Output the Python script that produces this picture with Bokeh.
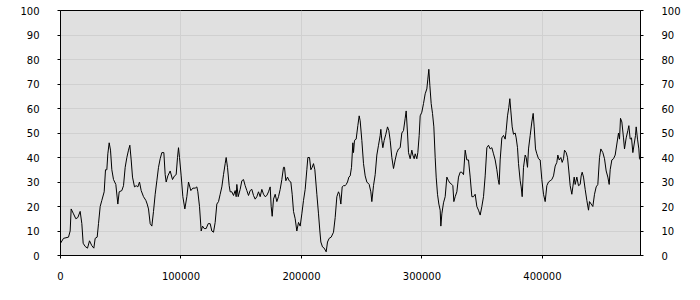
from bokeh.plotting import figure
from bokeh.models import Range1d, LinearAxis, FixedTicker, BasicTickFormatter
from bokeh.embed import file_html
from bokeh.resources import INLINE

x_seg1 = [0, 2500, 6640, 8020, 8850, 10790, 12730, 14390, 16320, 17710, 18810, 20470, 22410, 24070,
          26010, 27670, 28780, 30440, 31540, 32930, 34310, 36250, 37350, 38460, 39290, 40400, 41500,
          42610, 44000, 45930, 47590, 48700, 50910, 52300, 53680, 55070, 56450, 57560, 58660, 59770,
          61430, 62810, 64200, 65580, 66960, 68900, 70840, 71940, 73050, 74430, 75820, 77200, 78580,
          79970, 81350, 82740, 84120, 85780, 86890, 87720, 89100, 91040, 92970, 94630, 96020, 97120,
          97950, 98780, 100170, 101550, 103210, 104870, 106250, 108190, 109850, 111790, 113170,
          114000, 115380, 116770, 117880, 119260, 120920, 122580]
y_seg1 = [5, 7, 7.5, 10, 19, 17, 15, 15.5, 18, 13, 5, 3.7, 3, 6, 4, 3, 7, 7.5, 13, 20, 22.5, 26, 35,
          35, 41.5, 46, 43, 35, 31, 29, 21, 26, 26.5, 28.5, 36, 40, 43, 45, 39, 32, 28, 28.5, 28, 30,
          26.5, 24, 22.5, 21, 19, 13, 12, 18, 25, 30.5, 36, 39.5, 42, 42, 33, 30, 32.5, 34.5, 31, 32.5,
          33, 40, 44, 40, 32.5, 24, 19, 24, 30, 26.5, 27.5, 27.5, 28, 26, 20, 10, 12, 11, 11, 13]

x_seg2 = [124220, 125610, 126990, 128370, 129760, 131140, 132530, 133910, 135290, 136680, 137500,
          138610, 140000, 140830, 142210, 143590, 144980, 145810, 146360, 147470, 149130, 150510,
          151890, 153280, 154660, 156040, 157430, 158810, 160200, 161580, 162960, 164350, 165730,
          167110, 168500, 169880, 171260, 172650, 174030, 174860, 175690, 176800, 178180, 179560,
          180950, 182330, 183710, 185100, 185930, 187030, 188420, 189800, 191180, 192290, 193400,
          194780, 196160, 197550, 198930, 200310, 201700, 203080, 204460, 205300, 206680, 207790,
          208890, 210000, 211110, 212770, 214150, 215260, 216090, 217470, 218860, 220520, 221620,
          223010, 224670, 226600, 227990, 229370, 230750, 231580, 232690, 233800, 234900, 236290,
          237120, 238220, 239330, 240440, 241540, 242650]
y_seg2 = [13, 10, 9.5, 13.5, 21, 22, 25, 28, 33, 37.5, 40, 36, 28.5, 26, 26, 24.5, 26.5, 24, 29, 24,
          27, 30.5, 31, 28.5, 26.5, 24.5, 26.5, 27, 24.5, 23, 24, 26, 24, 27, 25, 24, 24.5, 26, 28,
          20, 16, 23, 25, 22, 24, 27, 31, 36, 36, 30.5, 32, 30.5, 30, 25, 18, 15, 10, 13.5, 12, 17,
          22.5, 27, 35, 40, 40, 35, 36, 37.5, 35, 25, 17, 10, 5.5, 3.5, 3, 1.5, 5.5, 7, 7.5, 9.5,
          15.5, 24, 26, 25, 21, 28, 28.5, 28.5, 29, 30, 32, 32.5, 36, 46]

x_seg3 = [243190, 244020, 245400, 246790, 247900, 248720, 250110, 251490, 252880, 254260, 256200,
          257580, 258410, 259790, 261180, 262560, 263940, 265330, 265880, 266710, 267540, 268650,
          270030, 271410, 272520, 273630, 275010, 276390, 277780, 279160, 280540, 281930, 283310,
          284700, 286080, 286910, 288020, 288850, 290230, 291610, 292440, 293550, 294380, 295760,
          296590, 297700, 298530, 299910, 301300, 302680, 304060, 304890, 305720, 306550, 307660,
          308770, 309880, 310980, 311810, 312920, 314030, 315130, 315690, 316520, 317900, 319280,
          320670, 322050, 323430, 324820, 325650, 326480, 327580, 328970, 330350, 331740, 333120,
          334500, 335890, 337270, 338650, 340040, 341420, 342800, 344190, 345570, 346950, 348340,
          349720, 351100, 352490, 353870, 355250, 356640, 358020, 359400, 360790, 362170, 363280]
y_seg3 = [42, 47, 47.5, 53, 57, 55, 47, 37.5, 32.5, 30, 29, 26, 22, 28.5, 33, 41, 45, 49, 51.5, 47,
          44, 47, 49.5, 52.5, 51, 47, 40, 35.5, 39, 42, 43.5, 44, 50, 51, 56, 59, 50, 42, 39.5, 43,
          41, 39.5, 41.5, 39.5, 42, 49, 57, 58.5, 62, 66, 68, 72, 76, 69.5, 62, 58, 52.5, 40, 32, 25,
          21, 18.5, 12, 17, 21.5, 24, 32, 30.5, 29.5, 29, 28.5, 22, 24, 26, 32, 34, 34, 33, 43, 39,
          39, 32, 24, 24, 25, 20, 18.5, 16.5, 20, 24, 32.5, 44, 45, 43.5, 44, 41.5, 39, 35, 31]

x_seg4 = [364090, 364920, 366310, 367690, 369080, 369910, 371010, 372120, 372950, 373780, 374890,
          375990, 377380, 378210, 379310, 380140, 381530, 382360, 383190, 384290, 385680, 386510,
          387610, 388440, 389830, 391210, 392320, 393150, 394250, 395360, 396740, 398130, 399510,
          400890, 402280, 403660, 405040, 406430, 407810, 409200, 410580, 411960, 412790, 413900,
          415280, 416390, 417500, 418330, 419710, 420820, 421920, 423030, 424410, 425240, 426350,
          427180, 428560, 429950, 431330, 432160, 432990, 434100, 435480, 436860, 438250, 439080,
          440460, 441840, 443230, 444610, 445990, 447380, 448480, 450150, 451530, 452910, 454300,
          455400, 456230, 457620, 459000, 460380, 461770, 463150, 463980, 464810, 465920, 467300,
          468130, 469520, 470900, 471730, 472840, 473940, 475050, 476160, 477260, 477820, 478920,
          480030, 480580, 481410]
y_seg4 = [29, 39, 48, 49, 47.5, 51, 57, 60.5, 64, 59, 52.5, 49.5, 50, 48, 44, 37.5, 30.5, 28, 24, 36,
          41, 40, 36, 43.5, 49, 54.5, 58, 52.5, 43.5, 41.5, 39.5, 39, 31, 25, 22, 28.5, 30, 30.5, 31,
          32.5, 36.5, 38, 41, 39, 40, 38, 39.5, 43, 42, 40, 34.5, 28.5, 25, 28, 32, 29, 32, 28.5, 29,
          32.5, 34, 32, 27, 22.5, 18.5, 22, 21, 20, 25, 28, 29, 40, 43.5, 42, 39.5, 34.5, 32, 29, 35,
          39, 39.5, 41, 45.5, 50, 47.5, 56, 54.5, 48, 43.5, 48, 51, 53, 47.5, 48, 42, 45.5, 49, 52.5,
          47.5, 43.5, 39.5, 39]

x_ticks = [0, 100000, 200000, 300000, 400000]
y_ticks = [0, 10, 20, 30, 40, 50, 60, 70, 80, 90, 100]

xs = x_seg1 + x_seg2 + x_seg3 + x_seg4
ys = y_seg1 + y_seg2 + y_seg3 + y_seg4
n = min(len(xs), len(ys))
xs, ys = xs[:n], ys[:n]

FONT = "DejaVu Sans"

p = figure(frame_width=580, frame_height=245, output_backend="svg", toolbar_location=None,
           x_range=Range1d(0, 481400), y_range=Range1d(0, 100),
           min_border_left=60, min_border_right=60, min_border_top=10, min_border_bottom=45,
           background_fill_color="#e0e0e0", border_fill_color="white",
           outline_line_color="black", outline_line_width=1)

p.xgrid.ticker = FixedTicker(ticks=x_ticks)
p.ygrid.ticker = FixedTicker(ticks=y_ticks)
for g in (p.xgrid[0], p.ygrid[0]):
    g.grid_line_color = "#d0d0d0"
    g.grid_line_width = 1

p.xaxis[0].ticker = FixedTicker(ticks=x_ticks)
p.xaxis[0].formatter = BasicTickFormatter(use_scientific=False)
p.yaxis[0].ticker = FixedTicker(ticks=y_ticks)

right_axis = LinearAxis(ticker=FixedTicker(ticks=y_ticks))
p.add_layout(right_axis, "right")

for ax in list(p.xaxis) + list(p.yaxis):
    ax.axis_line_color = "black"
    ax.major_tick_line_color = "black"
    ax.major_tick_out = 3
    ax.major_tick_in = 0
    ax.minor_tick_line_color = None
    ax.major_label_text_font = FONT
    ax.major_label_text_font_size = "10px"
    ax.major_label_text_color = "black"

p.xaxis[0].major_label_standoff = 13
p.yaxis[0].major_label_standoff = 18
right_axis.major_label_standoff = 18

p.line(xs, ys, line_color="black", line_width=1)

open("out.html", "w").write(file_html(p, INLINE))
